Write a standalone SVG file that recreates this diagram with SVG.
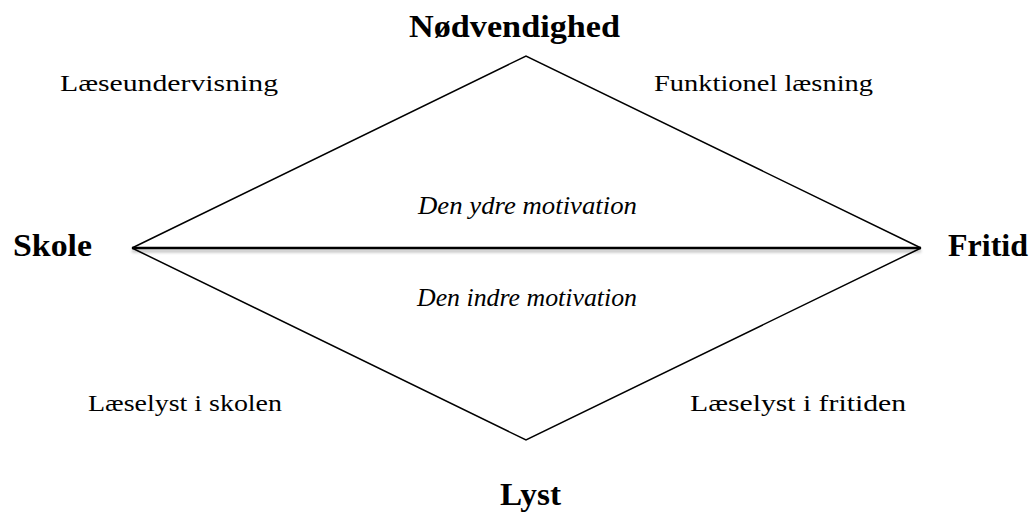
<svg xmlns="http://www.w3.org/2000/svg" width="1033" height="522" viewBox="0 0 1033 522">
<style>
.b{font-family:"Liberation Serif","DejaVu Serif",serif;font-weight:bold;font-size:31px;fill:#000}
.r{font-family:"Liberation Serif","DejaVu Serif",serif;font-size:24px;fill:#000}
.i{font-family:"Liberation Serif","DejaVu Serif",serif;font-style:italic;font-size:25px;fill:#000}
.edge{fill:none;stroke:#000;stroke-width:1.5}
</style>
<defs>
<filter id="sh" filterUnits="userSpaceOnUse" x="100" y="230" width="850" height="40">
<feGaussianBlur in="SourceAlpha" stdDeviation="1.5"/>
<feOffset dy="3"/>
<feComponentTransfer><feFuncA type="linear" slope="0.3"/></feComponentTransfer>
<feMerge><feMergeNode/><feMergeNode in="SourceGraphic"/></feMerge>
</filter>
</defs>
<rect width="1033" height="522" fill="#fff"/>
<g id="connectors">
<polyline class="edge" points="132,248 526,56 921,248"/>
<polyline class="edge" points="132,248 526,440 921,248"/>
<line x1="132" y1="248" x2="921" y2="248" stroke="#000" stroke-width="2.5" filter="url(#sh)"/>
</g>
<g id="top"><text class="b" x="409" y="37" textLength="211" lengthAdjust="spacingAndGlyphs">Nødvendighed</text></g>
<g id="left"><text class="b" x="13" y="256" textLength="79" lengthAdjust="spacingAndGlyphs">Skole</text></g>
<g id="right"><text class="b" x="948" y="256" textLength="80" lengthAdjust="spacingAndGlyphs">Fritid</text></g>
<g id="bottom"><text class="b" x="500" y="505" textLength="61" lengthAdjust="spacingAndGlyphs">Lyst</text></g>
<g id="tl"><text class="r" x="60" y="91" textLength="218" lengthAdjust="spacingAndGlyphs">Læseundervisning</text></g>
<g id="tr"><text class="r" x="654" y="91" textLength="219" lengthAdjust="spacingAndGlyphs">Funktionel læsning</text></g>
<g id="upper"><text class="i" x="418" y="214" textLength="219" lengthAdjust="spacingAndGlyphs">Den ydre motivation</text></g>
<g id="lower"><text class="i" x="417" y="306" textLength="220" lengthAdjust="spacingAndGlyphs">Den indre motivation</text></g>
<g id="bl"><text class="r" x="88" y="411" textLength="194" lengthAdjust="spacingAndGlyphs">Læselyst i skolen</text></g>
<g id="br"><text class="r" x="690" y="411" textLength="216" lengthAdjust="spacingAndGlyphs">Læselyst i fritiden</text></g>
</svg>
